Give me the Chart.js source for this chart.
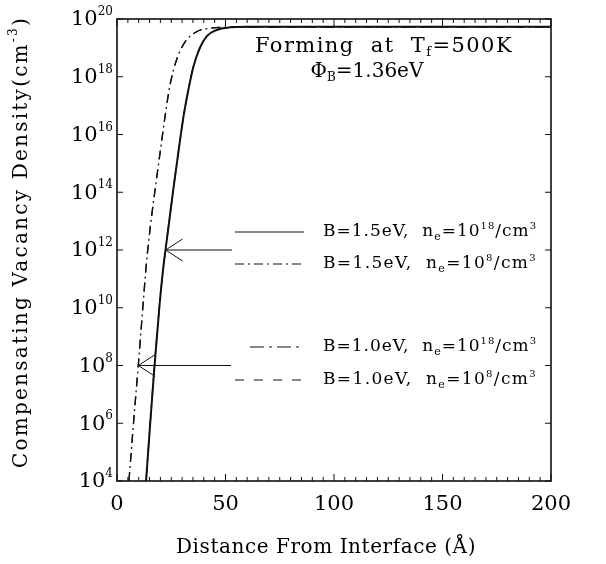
<!DOCTYPE html>
<html>
<head>
<meta charset="utf-8">
<script src="https://cdn.jsdelivr.net/npm/chart.js@4.4.0/dist/chart.umd.min.js"></script>
<style>
  body { margin: 0; background: #fff; }
  #wrap { width: 606px; height: 564px; position: relative; }
</style>
</head>
<body>
<div id="wrap"><canvas id="chart"></canvas></div>
<script>
const FONT = "'DejaVu Serif', serif";

// distance from interface (A) and log10 of vacancy density
const rightX = [13.4, 15.3, 17.3, 19.5, 21.2, 22.7, 24.4, 26.3, 28.4, 30.6, 32.9, 35.2, 38.2, 41.3, 45.9, 52, 60, 200];
const rightLogN = [4, 6, 8, 10, 11.3, 12.2, 13.2, 14.3, 15.45, 16.6, 17.55, 18.35, 19.0, 19.4, 19.62, 19.71, 19.73, 19.73];
const leftX = [5.5, 7.6, 9.8, 11.9, 13.5, 14.6, 16, 18.1, 20.1, 22.1, 24.4, 27.5, 31.3, 36.7, 42.9, 50, 60, 200];
const leftLogN = [4, 6, 8, 10, 11.5, 12.3, 13.2, 14.4, 15.5, 16.6, 17.7, 18.6, 19.2, 19.56, 19.68, 19.72, 19.73, 19.73];

const xTicks = [0, 50, 100, 150, 200];
const yTickExps = [4, 6, 8, 10, 12, 14, 16, 18, 20];

// arrows: tip position and tail x (A), at a density exponent
const arrowTipX = [22.4, 9.8];
const arrowTailX = [53, 52.5];
const arrowLogN = [12, 8];

const seriesNames = [
    ["B=1.5eV,  n", "e", "=10", "18", "/cm", "3"],
    ["B=1.5eV,  n", "e", "=10", "8", "/cm", "3"],
    ["B=1.0eV,  n", "e", "=10", "18", "/cm", "3"],
    ["B=1.0eV,  n", "e", "=10", "8", "/cm", "3"]
];
const seriesDash = [[], [9, 4, 2, 4], [14, 5, 3, 5], [9, 10]];
const seriesWidth = [2, 1.3, 1.3, 1.3];

function pts(xs, ls) {
    return xs.map((x, i) => ({ x: x, y: Math.pow(10, ls[i]) }));
}

const curves = [pts(rightX, rightLogN), pts(leftX, leftLogN), pts(rightX, rightLogN), pts(leftX, leftLogN)];

// draws text pieces [text, size, dy]; if width is given, letter spacing is stretched to fit it
function rich(ctx, parts, x, y, align, width) {
    ctx.letterSpacing = "0px";
    let w = 0, chars = 0;
    parts.forEach(p => { ctx.font = p[1] + "px " + FONT; w += ctx.measureText(p[0]).width; chars += p[0].length; });
    let sp = width ? (width - w) / chars : 0;
    if (sp < 0) sp = 0;
    const total = w + sp * chars;
    let cx = align === "right" ? x - total : align === "center" ? x - total / 2 : x;
    ctx.textAlign = "left";
    parts.forEach(p => {
        ctx.font = p[1] + "px " + FONT;
        ctx.letterSpacing = sp + "px";
        ctx.fillText(p[0], cx, y + p[2]);
        ctx.letterSpacing = "0px";
        cx += ctx.measureText(p[0]).width + sp * p[0].length;
    });
}

const decor = {
    id: "decor",
    afterDatasetsDraw(chart) {
        const ctx = chart.ctx;
        const xs = chart.scales.x, ys = chart.scales.y;
        const a = chart.chartArea;
        ctx.save();
        ctx.strokeStyle = "#111";
        ctx.fillStyle = "#000";

        // frame
        ctx.lineWidth = 1.6;
        ctx.strokeRect(a.left, a.top, a.right - a.left, a.bottom - a.top);

        // x ticks (inward, both sides)
        ctx.lineWidth = 1;
        for (let v = 0; v <= 200; v += 5) {
            const px = xs.getPixelForValue(v);
            const len = v % 50 === 0 ? 7 : 4;
            ctx.beginPath();
            ctx.moveTo(px, a.bottom); ctx.lineTo(px, a.bottom - len);
            ctx.moveTo(px, a.top); ctx.lineTo(px, a.top + len);
            ctx.stroke();
        }
        // y ticks
        yTickExps.forEach(e => {
            const py = ys.getPixelForValue(Math.pow(10, e));
            ctx.beginPath();
            ctx.moveTo(a.left, py); ctx.lineTo(a.left + 6, py);
            ctx.moveTo(a.right, py); ctx.lineTo(a.right - 6, py);
            ctx.stroke();
        });

        // tick labels
        ctx.textBaseline = "middle";
        xTicks.forEach(v => {
            rich(ctx, [[String(v), 21, 0]], xs.getPixelForValue(v), 505, "center");
        });
        yTickExps.forEach(e => {
            const py = ys.getPixelForValue(Math.pow(10, e));
            rich(ctx, [["10", 21, 1], [String(e), 12, -7]], a.left - 4, py, "right");
        });

        // axis titles
        rich(ctx, [["Distance From Interface (\u00C5)", 20, 0]], 326, 548, "center", 300);
        ctx.save();
        ctx.translate(22, 242);
        ctx.rotate(-Math.PI / 2);
        rich(ctx, [["Compensating Vacancy Density(cm", 20, 0], ["-3", 12, -8], [")", 20, 0]], 0, 0, "center", 452);
        ctx.restore();

        // annotation
        rich(ctx, [["Forming  at  T", 21, 0], ["f", 13, 6], ["=500K", 21, 0]], 384, 47, "center", 258);
        rich(ctx, [["\u03A6", 20, 0], ["B", 12, 6], ["=1.36eV", 20, 0]], 367, 72, "center", 105);

        // arrows
        ctx.lineWidth = 1;
        arrowTipX.forEach((tx, i) => {
            const py = ys.getPixelForValue(Math.pow(10, arrowLogN[i]));
            const px = xs.getPixelForValue(tx);
            const qx = xs.getPixelForValue(arrowTailX[i]);
            ctx.beginPath();
            ctx.moveTo(px, py); ctx.lineTo(qx, py);
            ctx.moveTo(px + 17, py - 11); ctx.lineTo(px, py); ctx.lineTo(px + 17, py + 11);
            ctx.stroke();
        });

        // legend
        const rows = [232, 264, 347, 380];
        const starts = [235, 235, 250, 235];
        rows.forEach((ry, i) => {
            ctx.setLineDash(seriesDash[i]);
            ctx.lineWidth = 1.2;
            ctx.beginPath();
            ctx.moveTo(starts[i], ry); ctx.lineTo(304, ry);
            ctx.stroke();
            ctx.setLineDash([]);
            const n = seriesNames[i];
            rich(ctx, [[n[0], 17, 0], [n[1], 11, 5], [n[2], 17, 0], [n[3], 10, -6], [n[4], 17, 0], [n[5], 10, -6]], 323, ry, "left", 214);
        });
        ctx.restore();
    }
};

new Chart(document.getElementById("chart"), {
    type: "line",
    data: {
        datasets: curves.map((c, i) => ({
            label: seriesNames[i].join(""),
            data: c,
            borderColor: "#111",
            borderWidth: seriesWidth[i],
            borderDash: seriesDash[i],
            pointRadius: 0,
            cubicInterpolationMode: "monotone",
            fill: false
        }))
    },
    options: {
        responsive: true,
        maintainAspectRatio: false,
        animation: false,
        layout: { padding: { left: 117, top: 19, right: 55, bottom: 83 } },
        plugins: { legend: { display: false }, tooltip: { enabled: false } },
        scales: {
            x: { type: "linear", min: 0, max: 200, display: false },
            y: { type: "logarithmic", min: 1e4, max: 1e20, display: false }
        }
    },
    plugins: [decor]
});
</script>
</body>
</html>
